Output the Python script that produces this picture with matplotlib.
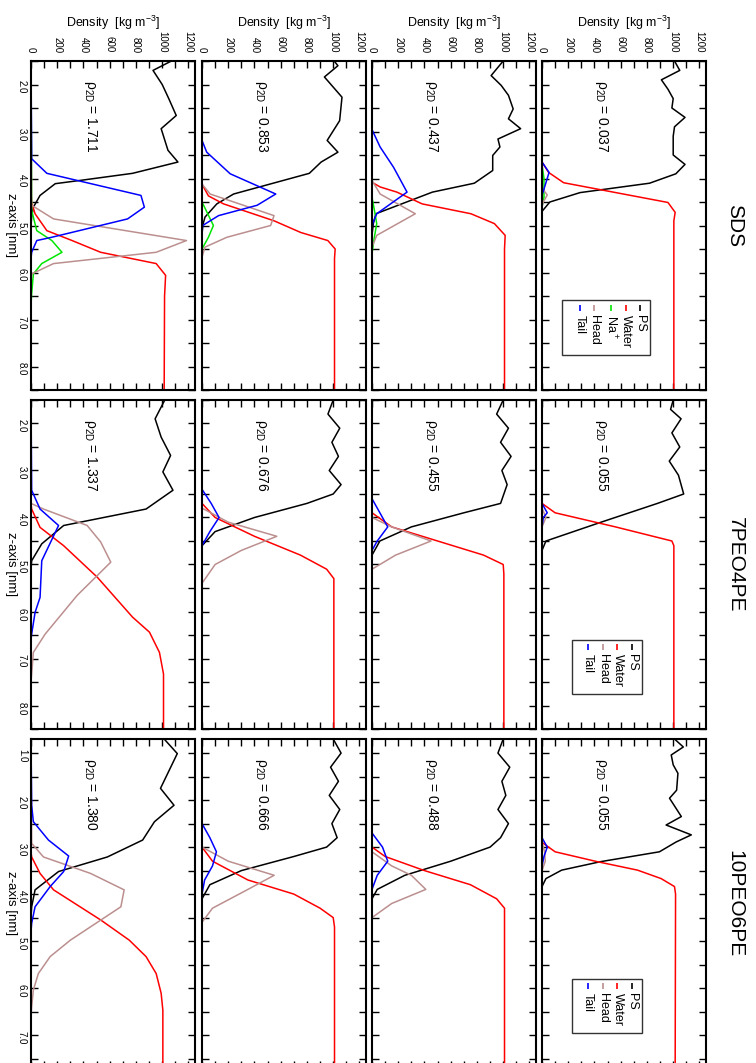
import matplotlib.pyplot as plt
from matplotlib.patches import Rectangle
from matplotlib.ticker import MultipleLocator, FormatStrFormatter

plt.rcParams['font.family'] = ['Liberation Sans', 'DejaVu Sans']
plt.rcParams['mathtext.default'] = 'regular'

# density profiles, (z [nm], density [kg m^-3])
systems = ["SDS", "7PEO4PE", "10PEO6PE"]
rho_2d = [[1.711, 0.853, 0.437, 0.037],
          [1.337, 0.676, 0.455, 0.055],
          [1.380, 0.666, 0.488, 0.055]]
species = ["PS", "Water", "Na$^+$", "Head", "Tail"]
colors = {"PS": "black", "Water": "red", "Na$^+$": "#00e600",
          "Head": "#bc8f8f", "Tail": "blue"}

sds_1711 = {
    "PS": [(1.5, 1070), (1.7, 930), (2.0, 1000), (2.3, 1050), (2.66, 1107), (2.94, 992),
           (3.4, 1044), (3.65, 1120), (3.89, 774), (4.04, 377), (4.11, 185), (4.36, 69),
           (4.61, 18), (4.82, 5), (5.0, 0), (8.5, 0)],
    "Water": [(1.5, 0), (4.3, 0), (4.51, 5), (4.75, 31), (5.11, 121), (5.32, 313), (5.57, 531),
              (5.81, 954), (6.06, 1026), (6.5, 1018), (8.5, 1015)],
    "Na$^+$": [(1.5, 0), (4.68, 5), (5.11, 44), (5.32, 159), (5.57, 236), (5.81, 82),
               (6.03, 18), (6.45, 5), (6.7, 0), (8.5, 0)],
    "Head": [(1.5, 0), (4.57, 5), (4.86, 172), (5.32, 1185), (5.57, 954), (5.81, 172),
             (6.03, 5), (6.2, 0), (8.5, 0)],
    "Tail": [(1.5, 0), (3.58, 5), (3.89, 121), (4.36, 838), (4.61, 864), (4.86, 736),
             (5.25, 159), (5.32, 44), (5.57, 5), (5.7, 0), (8.5, 0)],
}
sds_0853 = {
    "PS": [(1.51, 1010), (1.6, 1036), (1.84, 933), (2.27, 1067), (2.77, 1049), (3.19, 954),
           (3.44, 1036), (3.65, 908), (3.89, 818), (4.33, 241), (4.54, 113), (4.82, 23),
           (5.0, 5), (5.2, 0), (8.5, 0)],
    "Water": [(1.5, 0), (4.12, 0), (4.37, 49), (4.54, 164), (4.9, 549), (5.15, 754),
              (5.32, 959), (5.5, 1015), (5.7, 1010), (8.5, 1010)],
    "Na$^+$": [(1.5, 0), (4.5, 0), (5.0, 87), (5.25, 49), (5.5, 0), (8.5, 0)],
    "Head": [(1.5, 0), (4.12, 0), (4.33, 62), (4.79, 549), (5.0, 523), (5.25, 190),
             (5.46, 23), (5.67, 0), (8.5, 0)],
    "Tail": [(1.5, 0), (3.19, 0), (3.44, 36), (3.9, 215), (4.33, 562), (4.57, 420),
             (4.79, 126), (5.0, 5), (5.2, 0), (8.5, 0)],
}
sds_0437 = {
    "PS": [(1.51, 997), (1.81, 908), (2.02, 985), (2.23, 1040), (2.52, 1076), (2.73, 1040),
           (2.94, 1133), (3.16, 960), (3.33, 975), (3.51, 920), (3.83, 920), (4.1, 780),
           (4.29, 460), (4.75, 30), (4.96, 10), (5.2, 0), (8.5, 0)],
    "Water": [(1.5, 0), (4.08, 0), (4.18, 62), (4.29, 190), (4.54, 382), (4.75, 754),
              (4.96, 933), (5.21, 1015), (5.5, 1010), (8.5, 1010)],
    "Na$^+$": [(1.5, 0), (4.4, 0), (4.7, 20), (4.96, 36), (5.3, 15), (5.6, 0), (8.5, 0)],
    "Head": [(1.5, 0), (4.04, 0), (4.33, 62), (4.75, 330), (5.21, 36), (5.46, 0), (8.5, 0)],
    "Tail": [(1.5, 0), (2.96, 0), (3.33, 62), (3.76, 164), (4.29, 267), (4.75, 36),
             (4.96, 5), (5.1, 0), (8.5, 0)],
}
sds_0037 = {
    "PS": [(1.5, 1010), (1.7, 1050), (1.9, 910), (2.1, 960), (2.3, 1000), (2.5, 990),
           (2.7, 1090), (2.9, 1010), (3.1, 1000), (3.5, 1000), (3.7, 1090), (3.9, 1020),
           (4.1, 820), (4.3, 290), (4.5, 60), (4.7, 0), (8.5, 0)],
    "Water": [(1.5, 0), (3.65, 0), (3.87, 50), (4.09, 165), (4.51, 960), (4.72, 1015),
              (4.9, 1005), (8.5, 1005)],
    "Na$^+$": [(1.5, 0), (3.7, 0), (4.0, 15), (4.4, 15), (4.6, 0), (8.5, 0)],
    "Head": [(1.5, 0), (4.2, 0), (4.35, 40), (4.5, 10), (4.6, 0), (8.5, 0)],
    "Tail": [(1.5, 0), (3.65, 0), (3.87, 54), (4.27, 10), (4.35, 0), (8.5, 0)],
}

peo7_1337 = {
    "PS": [(1.51, 1018), (1.9, 946), (2.29, 992), (2.68, 1064), (3.03, 1005), (3.42, 1082),
           (3.82, 877), (4.17, 249), (4.56, 82), (4.92, 5), (5.1, 0), (8.5, 0)],
    "Water": [(1.5, 0), (3.7, 0), (3.82, 5), (4.21, 69), (4.6, 249), (5.27, 505), (6.12, 774),
              (6.44, 903), (6.87, 979), (7.33, 1010), (8.5, 1010)],
    "Head": [(1.5, 0), (3.7, 0), (3.82, 95), (4.17, 428), (4.52, 531), (4.95, 608),
             (5.66, 351), (6.48, 108), (6.87, 18), (7.33, 5), (7.5, 0), (8.5, 0)],
    "Tail": [(1.5, 0), (3.42, 5), (3.82, 69), (4.17, 210), (4.92, 82), (5.7, 69),
             (6.02, 31), (6.48, 5), (6.6, 0), (8.5, 0)],
}
peo7_0676 = {
    "PS": [(1.5, 1000), (1.8, 960), (2.1, 1050), (2.4, 990), (2.7, 1040), (3.0, 970),
           (3.3, 1060), (3.5, 1000), (3.7, 800), (4.0, 400), (4.3, 100), (4.6, 0), (8.5, 0)],
    "Water": [(1.5, 0), (3.7, 0), (4.0, 100), (4.4, 400), (4.8, 750), (5.1, 950),
              (5.3, 1005), (8.5, 1005)],
    "Head": [(1.5, 0), (3.8, 0), (4.1, 200), (4.4, 570), (4.7, 300), (5.0, 100), (5.4, 0),
             (8.5, 0)],
    "Tail": [(1.5, 0), (3.4, 0), (3.7, 70), (4.0, 130), (4.3, 60), (4.6, 0), (8.5, 0)],
}
peo7_0455 = {
    "PS": [(1.5, 1000), (1.8, 950), (2.1, 1040), (2.4, 980), (2.7, 1060), (3.0, 990),
           (3.3, 1030), (3.7, 980), (3.9, 700), (4.2, 300), (4.5, 60), (4.8, 0), (8.5, 0)],
    "Water": [(1.5, 0), (3.9, 0), (4.2, 150), (4.5, 500), (4.8, 850), (5.0, 1000),
              (5.2, 1005), (8.5, 1005)],
    "Head": [(1.5, 0), (4.0, 0), (4.2, 150), (4.5, 450), (4.8, 180), (5.1, 0), (8.5, 0)],
    "Tail": [(1.5, 0), (3.6, 0), (3.9, 60), (4.2, 120), (4.5, 40), (4.7, 0), (8.5, 0)],
}
peo7_0055 = {
    "PS": [(1.5, 1000), (1.7, 980), (1.9, 1060), (2.2, 990), (2.5, 1050), (2.8, 970),
           (3.1, 1040), (3.5, 1080), (3.7, 880), (4.1, 450), (4.5, 30), (4.7, 0), (8.5, 0)],
    "Water": [(1.5, 0), (3.7, 0), (3.9, 100), (4.2, 560), (4.5, 990), (4.6, 1005),
              (8.5, 1005)],
    "Head": [(1.5, 0), (3.8, 0), (4.0, 30), (4.2, 0), (8.5, 0)],
    "Tail": [(1.5, 0), (3.7, 0), (3.9, 40), (4.0, 10), (4.2, 0), (8.5, 0)],
}

peo10_1380 = {
    "PS": [(0.71, 1018), (1.01, 1115), (1.75, 987), (2.11, 1090), (2.46, 941), (2.85, 851),
           (3.21, 582), (3.52, 210), (3.91, 31), (4.27, 5), (4.5, 0), (7.7, 0)],
    "Water": [(0.7, 0), (3.1, 0), (3.21, 5), (3.56, 69), (3.91, 172), (4.55, 531),
              (4.98, 749), (5.33, 877), (5.69, 954), (6.11, 992), (6.47, 1005), (7.7, 1005)],
    "Head": [(0.7, 0), (2.92, 5), (3.21, 95), (3.56, 454), (3.91, 710), (4.27, 685),
             (4.98, 300), (5.33, 146), (5.69, 56), (6.04, 18), (6.4, 5), (6.6, 0), (7.7, 0)],
    "Tail": [(0.7, 0), (2.11, 5), (2.46, 18), (2.85, 133), (3.19, 287), (3.52, 249),
             (3.84, 146), (4.27, 31), (4.62, 5), (4.8, 0), (7.7, 0)],
}
peo10_0666 = {
    "PS": [(0.7, 1000), (1.0, 1060), (1.3, 980), (1.6, 1040), (1.9, 970), (2.2, 1050),
           (2.5, 990), (2.8, 1030), (3.0, 950), (3.2, 700), (3.5, 300), (3.8, 60), (4.1, 0),
           (7.7, 0)],
    "Water": [(0.7, 0), (3.0, 0), (3.3, 80), (3.7, 350), (4.0, 700), (4.3, 900),
              (4.5, 1000), (4.7, 1010), (7.7, 1010)],
    "Head": [(0.7, 0), (3.0, 0), (3.3, 200), (3.6, 550), (3.9, 350), (4.3, 80), (4.6, 0),
             (7.7, 0)],
    "Tail": [(0.7, 0), (2.5, 0), (2.8, 60), (3.1, 110), (3.4, 80), (3.7, 20), (4.0, 0),
             (7.7, 0)],
}
peo10_0488 = {
    "PS": [(0.7, 1000), (1.0, 960), (1.3, 1050), (1.6, 990), (1.9, 1020), (2.2, 960),
           (2.5, 1040), (2.8, 980), (3.0, 900), (3.3, 600), (3.6, 250), (3.9, 40), (4.1, 0),
           (7.7, 0)],
    "Water": [(0.7, 0), (3.0, 0), (3.2, 100), (3.5, 400), (3.8, 750), (4.1, 950),
              (4.3, 1010), (7.7, 1010)],
    "Head": [(0.7, 0), (3.1, 0), (3.4, 150), (3.6, 300), (3.9, 410), (4.2, 150), (4.5, 0),
             (7.7, 0)],
    "Tail": [(0.7, 0), (2.7, 0), (3.0, 80), (3.3, 120), (3.6, 40), (3.9, 0), (7.7, 0)],
}
peo10_0055 = {
    "PS": [(0.7, 1010), (0.87, 1077), (1.04, 985), (1.25, 1000), (1.43, 1036), (1.79, 1026),
           (1.96, 972), (2.35, 1062), (2.53, 946), (2.74, 1138), (2.89, 1023), (3.1, 895),
           (3.31, 446), (3.49, 150), (3.67, 30), (3.84, 0), (7.7, 0)],
    "Water": [(0.7, 0), (2.9, 0), (3.1, 100), (3.31, 421), (3.49, 728), (3.67, 908),
              (3.84, 1010), (4.0, 1018), (7.7, 1015)],
    "Head": [(0.7, 0), (2.9, 0), (3.1, 20), (3.3, 25), (3.5, 0), (7.7, 0)],
    "Tail": [(0.7, 0), (2.8, 0), (3.0, 40), (3.2, 15), (3.4, 0), (7.7, 0)],
}

profiles = [[sds_1711, sds_0853, sds_0437, sds_0037],
            [peo7_1337, peo7_0676, peo7_0455, peo7_0055],
            [peo10_1380, peo10_0666, peo10_0488, peo10_0055]]
z_ranges = [(1.5, 8.5), (1.5, 8.5), (0.7, 7.7)]

# layout in pixels (page is rotated: systems stacked, rho columns side by side)
W, H = 756, 1063
col_x = [31, 202, 372, 542]
sec_y = [61, 400, 739]
pw, ph = 164, 329

fig = plt.figure(figsize=(W / 100, H / 100), dpi=100)


def draw_legend(ax, names, box, xs):
    x0, x1, y0, y1 = box
    ax.add_patch(Rectangle((x0, y0), x1 - x0, y1 - y0, transform=ax.transAxes,
                           facecolor="white", edgecolor="#333333", lw=1.0, zorder=5))
    for name, x in zip(names, xs):
        ax.plot([x, x], [y1 - 0.015, y1 - 0.033], transform=ax.transAxes,
                color=colors[name], lw=1.2, zorder=6, solid_capstyle="butt")
        ax.text(x, y1 - 0.045, name, transform=ax.transAxes, rotation=-90,
                ha="center", va="top", fontsize=9, zorder=6)


for s, system in enumerate(systems):
    for c in range(4):
        ax = fig.add_axes([col_x[c] / W, 1 - (sec_y[s] + ph) / H, pw / W, ph / H])
        prof = profiles[s][c]
        for name in species:
            if name not in prof:
                continue
            z = [p[0] for p in prof[name]]
            d = [p[1] for p in prof[name]]
            ax.plot(d, z, color=colors[name], lw=1.1)
        ax.set_xlim(0, 1250)
        ax.set_ylim(z_ranges[s][1], z_ranges[s][0])
        ax.xaxis.set_major_locator(MultipleLocator(200))
        ax.xaxis.set_minor_locator(MultipleLocator(100))
        ax.yaxis.set_major_locator(MultipleLocator(1.0))
        ax.yaxis.set_minor_locator(MultipleLocator(0.5))
        ax.yaxis.set_major_formatter(FormatStrFormatter("%.1f"))
        ax.tick_params(which="both", direction="in", length=5, width=1,
                       top=True, bottom=True, left=True, right=True)
        ax.tick_params(axis="x", labelbottom=False, labeltop=(s == 0),
                       labelrotation=-90, labelsize=7, pad=6)
        ax.tick_params(axis="y", labelleft=(c == 0), labelright=False,
                       labelrotation=-90, labelsize=7, pad=3)
        for sp in ax.spines.values():
            sp.set_linewidth(1.5)
        ax.text(0.36, 1 - 19 / ph, r"ρ$_{2D}$ = %.3f" % rho_2d[s][c], transform=ax.transAxes,
                rotation=-90, ha="center", va="top", fontsize=10)
        if s == 0:
            fig.text((col_x[c] + pw / 2) / W, 1 - 23 / H, "Density  [kg m$^{-3}$]",
                     ha="center", va="center", fontsize=9)
        if c == 0:
            fig.text(11 / W, 1 - (sec_y[s] + ph / 2) / H, "z-axis [nm]", rotation=-90,
                     ha="center", va="center", fontsize=9.5)
        if c == 3:
            if s == 0:
                draw_legend(ax, ["PS", "Water", "Na$^+$", "Head", "Tail"],
                            (0.12, 0.66, 0.106, 0.274), [0.60, 0.51, 0.42, 0.32, 0.23])
            else:
                draw_legend(ax, ["PS", "Water", "Head", "Tail"],
                            (0.18, 0.61, 0.106, 0.272), [0.55, 0.46, 0.37, 0.28])
    fig.text(735 / W, 1 - (sec_y[s] + ph / 2) / H, system, rotation=-90,
             ha="center", va="center", fontsize=15)

fig.savefig("out.png", dpi=100)
